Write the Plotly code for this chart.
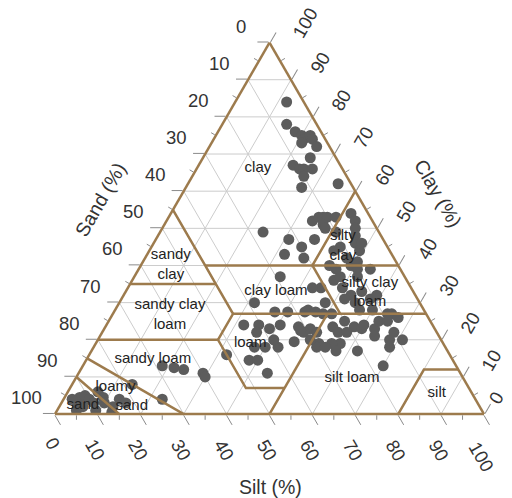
import math
import plotly.graph_objects as go

# Soil samples: clay, silt and sand content (%)
clay = [84, 78, 76, 75, 74, 75, 74, 72, 73, 69, 67, 66, 66, 66, 64, 61, 62,
        52, 53, 53, 53, 51, 50, 54, 52, 50, 48, 46, 44, 45, 47, 42, 49, 44, 49, 47, 43, 37, 42, 45, 46, 53,
        40, 39, 40, 39, 36, 34, 32, 31, 30, 33, 31, 28, 28, 34, 30, 27, 27, 26, 28, 27.5, 27, 27, 41, 39, 32, 37, 37,
        23, 22, 22, 23.5, 22, 25, 23.5, 23, 24, 23, 25, 25, 22, 21, 19, 19, 19, 18, 17, 17, 18, 20, 20, 13, 22,
        27.5, 27.5, 24, 23.5, 20, 18, 18, 11, 14.5, 14.5, 34, 30, 27.5, 24, 24, 22, 23, 20, 22.5, 19.5, 18, 18, 16,
        13, 12.5, 12, 11, 10, 4, 8,
        4.5, 5, 4, 2.5, 2, 3, 1, 1, 4.5, 3, 2, 0.5, 4, 3, 4, 6]
silt = [12, 15, 18, 20, 21, 22, 23, 25, 21, 25, 22, 24, 25, 27, 26, 27, 35,
        34, 35, 36, 37, 37, 38, 42, 44, 45, 46, 47, 49, 35, 37, 37, 41, 43, 24, 31, 32, 34, 47, 44, 48.5, 39,
        44, 46, 49, 51, 47, 50, 53, 52, 55, 55, 58, 60, 57, 45, 48, 64, 65, 67, 45, 47, 49, 51, 50, 54, 59, 52, 48,
        48, 47, 50, 53, 55, 55, 58, 60, 60, 63, 63, 65, 68, 64, 57, 55, 52, 52, 57, 62, 69, 71, 68, 70, 57,
        37.5, 40.5, 40.5, 45, 49.5, 54, 43, 44, 38, 40, 43, 31.5, 44.5, 32, 35.5, 36, 38.5, 41, 46, 46, 40, 37.5, 32,
        18.5, 21.5, 24, 29, 30, 23, 14,
        3.5, 4.5, 6, 4, 5.5, 7.5, 9, 4.5, 9, 10, 12.5, 13, 13, 15, 2, 7]
sand = [4, 7, 6, 5, 5, 3, 3, 3, 6, 6, 11, 10, 9, 7, 10, 12, 3,
        14, 12, 11, 10, 12, 12, 4, 4, 5, 6, 7, 7, 20, 16, 21, 10, 13, 27, 22, 25, 29, 11, 11, 5.5, 8,
        16, 15, 11, 10, 17, 16, 15, 17, 15, 12, 11, 12, 15, 21, 22, 9, 8, 7, 27, 25.5, 24, 22, 9, 7, 9, 11, 15,
        29, 31, 28, 23.5, 23, 20, 18.5, 17, 16, 14, 12, 10, 10, 15, 24, 26, 29, 30, 26, 21, 13, 9, 12, 17, 21,
        35, 32, 35.5, 31.5, 30.5, 28, 39, 45, 47.5, 45.5, 23, 38.5, 28, 44, 40.5, 42, 38.5, 39, 31.5, 34.5, 42, 44.5, 52,
        68.5, 66, 64, 60, 60, 73, 78,
        92, 90.5, 90, 93.5, 92.5, 89.5, 90, 94.5, 86.5, 87, 85.5, 86.5, 83, 82, 94, 87]

# USDA texture class boundaries as (clay, sand, silt) polylines
boundaries = [
    [(55, 45, 0), (40, 45, 15), (35, 45, 20), (27, 45, 28), (20, 52, 28),
     (7, 52, 41), (7, 43, 50), (0, 50, 50)],
    [(40, 45, 15), (40, 20, 40), (60, 0, 40)],
    [(40, 20, 40), (40, 0, 60)],
    [(40, 20, 40), (27, 20, 53)],
    [(35, 65, 0), (35, 45, 20)],
    [(27, 45, 28), (27, 0, 73)],
    [(20, 80, 0), (20, 52, 28)],
    [(7, 43, 50), (27, 23, 50)],
    [(12, 0, 88), (12, 8, 80), (0, 20, 80)],
    [(15, 85, 0), (0, 70, 30)],
    [(10, 90, 0), (0, 85, 15)],
]

# Class names and their anchor points (clay, sand, silt)
class_names = ["clay", "silty<br>clay", "sandy<br>clay", "sandy clay<br>loam", "clay loam",
               "silty clay<br>loam", "loam", "sandy loam", "silt loam", "silt",
               "loamy", "sand", "sand"]
class_clay = [66.2, 45.2, 40, 26.6, 33, 32.6, 19, 14.8, 9.7, 5.6, 7.2, 2.4, 2.2]
class_sand = [19.6, 10.3, 53, 59.9, 32, 10.3, 45, 69.8, 25.9, 8.2, 82.3, 92.3, 81]
class_silt = [14.2, 44.5, 7, 13.5, 35, 57.1, 36, 15.4, 64.4, 86.2, 10.5, 5.3, 16.8]

# Axis ticks
major_ticks = [0, 10, 20, 30, 40, 50, 60, 70, 80, 90, 100]
minor_ticks = [5, 15, 25, 35, 45, 55, 65, 75, 85, 95]
tick_labels = ["0", "10", "20", "30", "40", "50", "60", "70", "80", "90", "100"]

BROWN = "#9d7b4d"
TICK_GRAY = "#8a8a8a"
TEXT = "#333333"
FONT = "Arial, Liberation Sans, sans-serif"

# page and ternary domain
W, H = 512, 498
DOM_X = [0.1074, 0.9453]
DOM_Y = [0.165, 0.918]

# geometry of the drawn triangle (pixels), used to place edge labels
side = (DOM_X[1] - DOM_X[0]) * W
tri_h = side * math.sqrt(3) / 2
x_left = (DOM_X[0] + DOM_X[1]) / 2 * W - side / 2
y_base = H * (1 - (DOM_Y[0] + DOM_Y[1]) / 2) + tri_h / 2


def to_px(cl, si):
    return (x_left + si / 100 * side + cl / 100 * side / 2,
            y_base - cl / 100 * tri_h)


def to_paper(px, py):
    return px / W, 1 - py / H


N_LEFT = (-math.sqrt(3) / 2, -0.5)
N_RIGHT = (math.sqrt(3) / 2, -0.5)
N_BOTTOM = (0.0, 1.0)
UP_RIGHT_EDGE = (-0.5, -math.sqrt(3) / 2)

# distance of a rotated label centre from its edge, by label length
RIGHT_DIST = {1: 18, 2: 34, 3: 41}
BOTTOM_DIST = {1: 29, 2: 36, 3: 43}

fig = go.Figure()

# reference grid every 10 %
ga, gb, gc = [], [], []
for k in major_ticks[1:-1]:
    for p, q in [((k, 100 - k, 0), (k, 0, 100 - k)),
                 ((100 - k, k, 0), (0, k, 100 - k)),
                 ((100 - k, 0, k), (0, 100 - k, k))]:
        ga += [p[0], q[0], None]
        gb += [p[1], q[1], None]
        gc += [p[2], q[2], None]
fig.add_trace(go.Scatterternary(a=ga, b=gb, c=gc, mode="lines",
                                line=dict(color="#cccccc", width=1),
                                hoverinfo="skip", showlegend=False))

# samples
fig.add_trace(go.Scatterternary(a=clay, b=sand, c=silt, mode="markers",
                                marker=dict(size=11, color="#5c5c5c", line=dict(width=0)),
                                showlegend=False))

# class boundaries
ba, bb, bc = [], [], []
for line in boundaries:
    for cl, sa, si in line:
        ba.append(cl)
        bb.append(sa)
        bc.append(si)
    ba.append(None)
    bb.append(None)
    bc.append(None)
fig.add_trace(go.Scatterternary(a=ba, b=bb, c=bc, mode="lines",
                                line=dict(color=BROWN, width=2.5),
                                hoverinfo="skip", showlegend=False))

# class names
fig.add_trace(go.Scatterternary(a=class_clay, b=class_sand, c=class_silt, mode="text",
                                text=class_names,
                                textfont=dict(size=15, color="#222222", family=FONT),
                                hoverinfo="skip", showlegend=False))

axis_common = dict(
    tickmode="array", tickvals=major_ticks,
    ticks="outside", ticklen=11, tickwidth=1, tickcolor=TICK_GRAY,
    showticklabels=False,
    showline=True, linecolor=BROWN, linewidth=2.5,
    showgrid=False, title=dict(text=""),
)

annotations = []

# edge labels: sand on the left, clay on the right, silt along the bottom
for v, lab in zip(major_ticks, tick_labels):
    # sand = v on the left edge (silt = 0)
    px, py = to_px(100 - v, 0)
    d = 33
    x, y = to_paper(px + N_LEFT[0] * d, py + N_LEFT[1] * d)
    annotations.append(dict(text=lab, x=x, y=y, xref="paper", yref="paper",
                            xanchor="center", yanchor="middle", showarrow=False,
                            font=dict(size=18.5, color=TEXT, family=FONT)))
    # clay = v on the right edge (sand = 0); the corner label slides up the edge
    px, py = to_px(v, 100 - v)
    d = RIGHT_DIST[len(lab)]
    slide = 8 if v == 0 else 0
    x, y = to_paper(px + N_RIGHT[0] * d + UP_RIGHT_EDGE[0] * slide,
                    py + N_RIGHT[1] * d + UP_RIGHT_EDGE[1] * slide)
    annotations.append(dict(text=lab, x=x, y=y, xref="paper", yref="paper",
                            xanchor="center", yanchor="middle", showarrow=False,
                            textangle=-60,
                            font=dict(size=18.5, color=TEXT, family=FONT)))
    # silt = v on the bottom edge (clay = 0)
    px, py = to_px(0, v)
    d = BOTTOM_DIST[len(lab)]
    x, y = to_paper(px - 2, py + d)
    annotations.append(dict(text=lab, x=x, y=y, xref="paper", yref="paper",
                            xanchor="center", yanchor="middle", showarrow=False,
                            textangle=60,
                            font=dict(size=18.5, color=TEXT, family=FONT)))

# short intermediate ticks every 5 %
for v in minor_ticks:
    for (cl, si), n in [((100 - v, 0), N_LEFT), ((v, 100 - v), N_RIGHT), ((0, v), N_BOTTOM)]:
        px, py = to_px(cl, si)
        x, y = to_paper(px + n[0] * 1.2, py + n[1] * 1.2)
        annotations.append(dict(text="", x=x, y=y, xref="paper", yref="paper",
                                showarrow=True, arrowhead=0, arrowwidth=1,
                                arrowcolor=TICK_GRAY, standoff=0, startstandoff=0,
                                ax=n[0] * 6, ay=n[1] * 6))

# axis titles
annotations += [
    dict(text="Sand (%)", x=100 / W, y=1 - 200 / H, xref="paper", yref="paper",
         xanchor="center", yanchor="middle", showarrow=False, textangle=-60,
         font=dict(size=19.5, color=TEXT, family=FONT)),
    dict(text="Clay (%)", x=438 / W, y=1 - 193 / H, xref="paper", yref="paper",
         xanchor="center", yanchor="middle", showarrow=False, textangle=60,
         font=dict(size=19.5, color=TEXT, family=FONT)),
    dict(text="Silt (%)", x=270 / W, y=1 - 487 / H, xref="paper", yref="paper",
         xanchor="center", yanchor="middle", showarrow=False,
         font=dict(size=19.5, color=TEXT, family=FONT)),
]

fig.update_layout(
    width=W, height=H,
    margin=dict(l=0, r=0, t=0, b=0),
    paper_bgcolor="white",
    font=dict(family=FONT),
    ternary=dict(
        sum=100,
        bgcolor="white",
        domain=dict(x=DOM_X, y=DOM_Y),
        aaxis=dict(**axis_common),
        baxis=dict(**axis_common),
        caxis=dict(**axis_common),
    ),
    annotations=annotations,
)

fig.write_html("out.html")
